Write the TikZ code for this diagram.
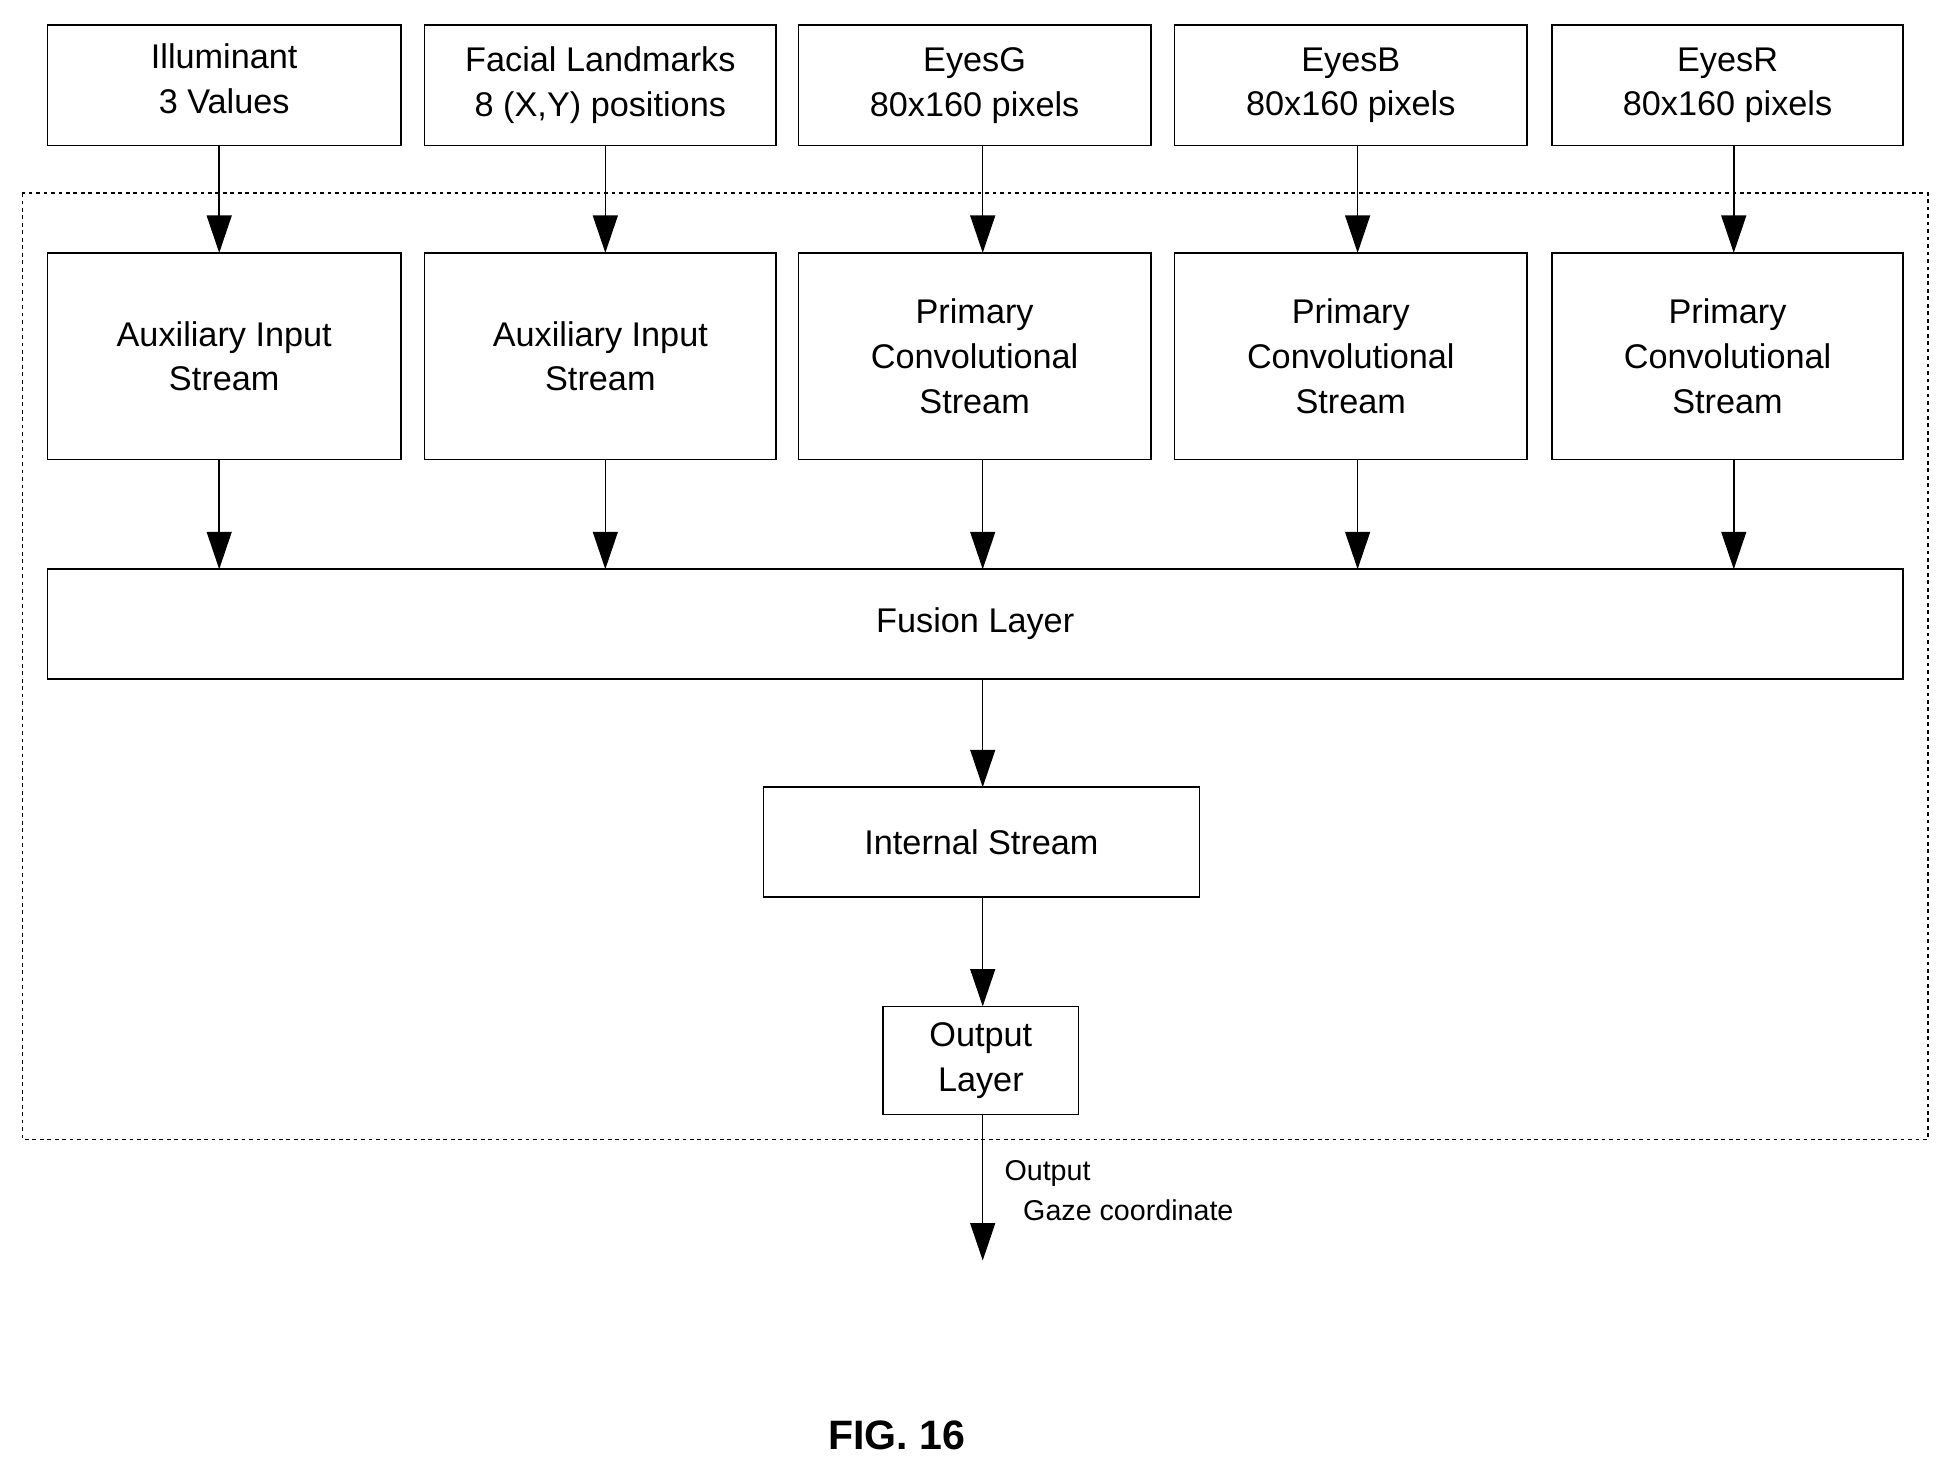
\documentclass[tikz,border=0pt]{standalone}
\usepackage{fontspec}
\setmainfont{Liberation Sans}
\usetikzlibrary{arrows.meta}
\begin{document}
\begin{tikzpicture}[x=1pt,y=-1pt,
  box/.style={draw,line width=1.2pt,align=center,outer sep=0pt,inner sep=2pt,font=\fontsize{27.5}{36}\selectfont},
  arr/.style={line width=1.2pt,-{Triangle[length=30pt,width=20pt]}}]
\useasboundingbox (0,0) rectangle (1560,1178);
\draw[dash pattern=on 3pt off 3pt,line width=1pt] (18,155) rectangle (1548,915);
\node[box,minimum width=284,minimum height=97] (t1) at (180,68.5) {Illuminant\\3 Values\strut};
\node[box,minimum width=282,minimum height=97] (t2) at (482,68.5) {Facial Landmarks\\8 (X,Y) positions};
\node[box,minimum width=283,minimum height=97] (t3) at (782.5,68.5) {EyesG\\80x160 pixels};
\node[box,minimum width=283,minimum height=97] (t4) at (1084.5,68.5) {EyesB\\80x160 pixels};
\node[box,minimum width=282,minimum height=97] (t5) at (1387,68.5) {EyesR\\80x160 pixels};
\node[box,minimum width=284,minimum height=166] (s1) at (180,286) {Auxiliary Input\\Stream};
\node[box,minimum width=282,minimum height=166] (s2) at (482,286) {Auxiliary Input\\Stream};
\node[box,minimum width=283,minimum height=166] (s3) at (782.5,286) {Primary\\Convolutional\\Stream};
\node[box,minimum width=283,minimum height=166] (s4) at (1084.5,286) {Primary\\Convolutional\\Stream};
\node[box,minimum width=282,minimum height=166] (s5) at (1387,286) {Primary\\Convolutional\\Stream};
\node[box,minimum width=1490,minimum height=88] (fu) at (783,501) {Fusion Layer};
\node[box,minimum width=350,minimum height=88] (in) at (788,676) {Internal Stream};
\node[box,minimum width=157,minimum height=87] (ou) at (787.5,851.5) {Output\\Layer};
\coordinate (end) at (789,1012);
\foreach \i/\x in {1/176,2/486,3/789,4/1090,5/1392}{
  \draw[arr] (t\i.south -| \x,0) -- (s\i.north -| \x,0);
  \draw[arr] (s\i.south -| \x,0) -- (fu.north -| \x,0);
}
\draw[arr] (fu.south -| 789,0) -- (in.north -| 789,0);
\draw[arr] (in.south -| 789,0) -- (ou.north -| 789,0);
\draw[arr] (ou.south -| 789,0) -- (end);
\node[anchor=west,align=left,font=\fontsize{23}{32}\selectfont] (lb) at (803,956) {Output\\\hspace*{15pt}Gaze coordinate};
\node[font=\bfseries\fontsize{33}{40}\selectfont] (fig) at (720,1152) {FIG. 16};
\end{tikzpicture}
\end{document}
